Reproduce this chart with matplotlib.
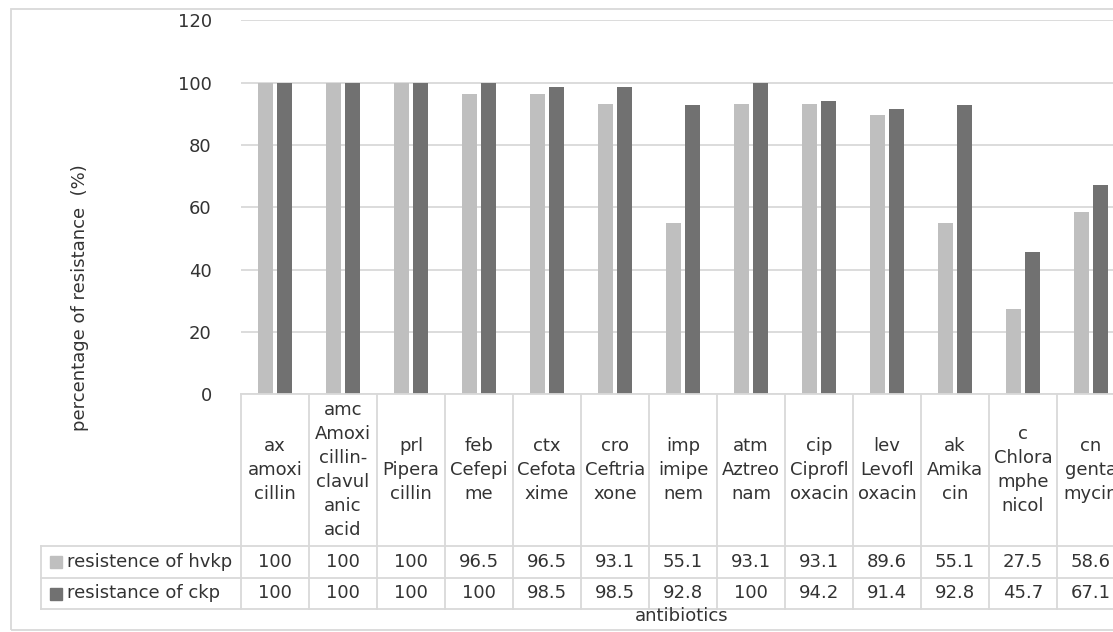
import matplotlib
matplotlib.use("Agg")
import matplotlib.pyplot as plt
from matplotlib.patches import Rectangle
from matplotlib.transforms import blended_transform_factory
import numpy as np

plt.rcParams['font.family'] = ['DejaVu Sans']

# ---- data ----
categories = [
    "ax\namoxi\ncillin",
    "amc\nAmoxi\ncillin-\nclavul\nanic\nacid",
    "prl\nPipera\ncillin",
    "feb\nCefepi\nme",
    "ctx\nCefota\nxime",
    "cro\nCeftria\nxone",
    "imp\nimipe\nnem",
    "atm\nAztreo\nnam",
    "cip\nCiprofl\noxacin",
    "lev\nLevofl\noxacin",
    "ak\nAmika\ncin",
    "c\nChlora\nmphe\nnicol",
    "cn\ngenta\nmycin",
]
series_names = ["resistence of hvkp", "resistance of ckp"]
hvkp = [100, 100, 100, 96.5, 96.5, 93.1, 55.1, 93.1, 93.1, 89.6, 55.1, 27.5, 58.6]
ckp = [100, 100, 100, 100, 98.5, 98.5, 92.8, 100, 94.2, 91.4, 92.8, 45.7, 67.1]
hvkp_labels = ["100", "100", "100", "96.5", "96.5", "93.1", "55.1", "93.1", "93.1", "89.6", "55.1", "27.5", "58.6"]
ckp_labels = ["100", "100", "100", "100", "98.5", "98.5", "92.8", "100", "94.2", "91.4", "92.8", "45.7", "67.1"]
y_ticks = [0, 20, 40, 60, 80, 100, 120]

# ---- style ----
LIGHT = "#bfbfbf"
DARK = "#717171"
GRID = "#d9d9d9"
TEXT = "#333333"
FS = 13.0

W, H = 1113, 632
fig = plt.figure(figsize=(W / 100, H / 100), dpi=100)


def fx(px):
    return px / W


def fy(py):
    return 1 - py / H


# plot area (runs past the right edge of the canvas)
left_px, right_px = 241, 1125
top_px, zero_px = 20.3, 394.3
ax = fig.add_axes([fx(left_px), fy(zero_px), fx(right_px - left_px), (zero_px - top_px) / H])

n = len(categories)
x = np.arange(n)
bw = 0.22
off = 0.143
ax.bar(x - off, hvkp, bw, color=LIGHT, zorder=3)
ax.bar(x + off, ckp, bw, color=DARK, zorder=3)

ax.set_xlim(-0.5, n - 0.5)
ax.set_ylim(0, 120)
ax.set_yticks(y_ticks)
ax.set_yticklabels([str(t) for t in y_ticks], fontsize=FS, color=TEXT)
ax.tick_params(axis='y', length=0, pad=21)
ax.set_xticks([])
ax.grid(axis='y', color=GRID, linewidth=1.3, zorder=0)
for s in ax.spines.values():
    s.set_visible(False)

# y-axis title
fig.text(fx(80), fy(298), "percentage of resistance  (%)", rotation=90,
         ha='center', va='center', fontsize=FS, color=TEXT)

# ---- data table under the plot ----
tr = blended_transform_factory(ax.transData, fig.transFigure)
unit = (right_px - left_px) / n          # pixels per category
label_left = -0.5 - (left_px - 41) / unit
head_top, head_bot, row1_bot, row2_bot = 394.3, 546, 578, 609

line_kw = dict(color=GRID, linewidth=1.3, transform=tr, clip_on=False)


def hline(y, x0, x1):
    fig.add_artist(plt.Line2D([x0, x1], [fy(y), fy(y)], **line_kw))


def vline(xv, y0, y1):
    fig.add_artist(plt.Line2D([xv, xv], [fy(y0), fy(y1)], **line_kw))


hline(head_top, -0.5, n - 0.5)
for yy in (head_bot, row1_bot, row2_bot):
    hline(yy, label_left, n - 0.5)
for i in range(n + 1):
    vline(i - 0.5, head_top, row2_bot)
vline(label_left, head_bot, row2_bot)

for i, lab in enumerate(categories):
    fig.text(i, fy((head_top + head_bot) / 2), lab, transform=tr, ha='center',
             va='center', multialignment='center', fontsize=FS, color=TEXT,
             linespacing=1.42)

rows = [(hvkp_labels, LIGHT, head_bot, row1_bot), (ckp_labels, DARK, row1_bot, row2_bot)]
for (vals, col, y0, y1), name in zip(rows, series_names):
    yc = (y0 + y1) / 2
    for i, v in enumerate(vals):
        fig.text(i, fy(yc), v, transform=tr, ha='center', va='center',
                 fontsize=FS, color=TEXT)
    fig.add_artist(Rectangle((fx(50), fy(yc + 6)), fx(12), 12 / H,
                             transform=fig.transFigure, color=col))
    fig.text(fx(67), fy(yc), name, ha='left', va='center', fontsize=FS, color=TEXT)

# x-axis title
fig.text(fx(682), fy(616), "antibiotics", ha='center', va='center',
         fontsize=FS, color=TEXT)

# chart border
fig.add_artist(Rectangle((fx(11), fy(630)), fx(1200), (630 - 9) / H,
                         transform=fig.transFigure, fill=False,
                         edgecolor=GRID, linewidth=1.3))

fig.savefig("out.png", dpi=100)
